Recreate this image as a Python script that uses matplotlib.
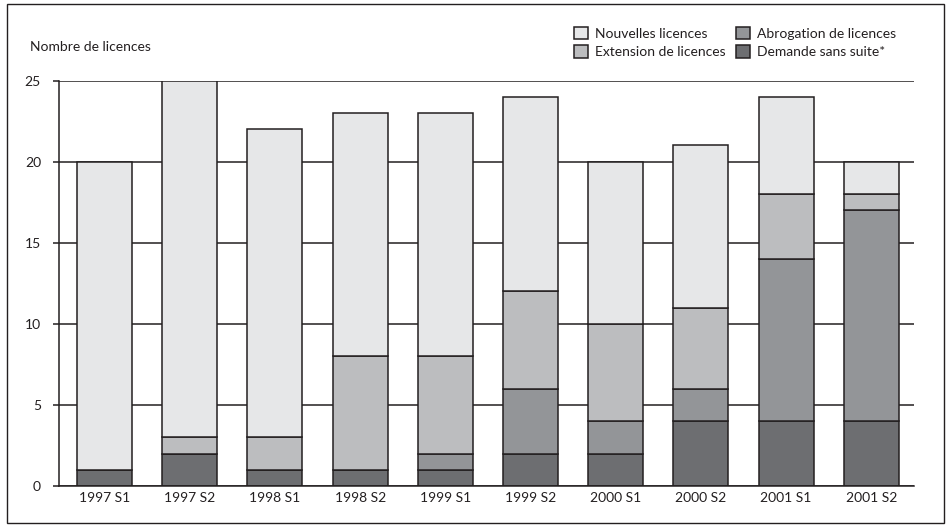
import matplotlib
matplotlib.use("Agg")
import matplotlib.pyplot as plt
from matplotlib.patches import Rectangle
import numpy as np

plt.rcParams['font.family'] = ['Lato', 'DejaVu Sans']

periods = ["1997 S1", "1997 S2", "1998 S1", "1998 S2", "1999 S1",
           "1999 S2", "2000 S1", "2000 S2", "2001 S1", "2001 S2"]
demande_sans_suite = [1, 2, 1, 1, 1, 2, 2, 4, 4, 4]
abrogation = [0, 0, 0, 0, 1, 4, 2, 2, 10, 13]
extension = [0, 1, 2, 7, 6, 6, 6, 5, 4, 1]
nouvelles = [19, 22, 19, 15, 15, 12, 10, 10, 6, 2]

series = [
    ("Demande sans suite*", demande_sans_suite, "#6d6e71"),
    ("Abrogation de licences", abrogation, "#939598"),
    ("Extension de licences", extension, "#bcbdbf"),
    ("Nouvelles licences", nouvelles, "#e6e7e8"),
]
yticks = [0, 5, 10, 15, 20, 25]

edge = "#231f20"
text_color = "#231f20"
fs = 10

fig = plt.figure(figsize=(9.46, 5.26), dpi=100)
ax = fig.add_axes([59 / 946, 40 / 526, (914 - 59) / 946, (486 - 80.5) / 526])

x = np.arange(len(periods))
bottom = np.zeros(len(periods))
handles = {}
for name, vals, color in series:
    vals = np.array(vals, dtype=float)
    bars = ax.bar(x, vals, bottom=bottom, width=0.645, color=color,
                  edgecolor=edge, linewidth=1.1, zorder=3, label=name)
    handles[name] = bars
    bottom += vals

ax.set_xlim(-0.534, 9.5)
ax.set_ylim(0, 25)
ax.set_yticks(yticks)
ax.set_yticklabels([str(t) for t in yticks])
ax.set_xticks(x)
ax.set_xticklabels(periods)
ax.yaxis.grid(True, color=edge, linewidth=1.1, zorder=0)
ax.set_axisbelow(True)

for s in ["top", "right"]:
    ax.spines[s].set_visible(False)
for s in ["left", "bottom"]:
    ax.spines[s].set_color(edge)
    ax.spines[s].set_linewidth(1.1)
    ax.spines[s].set_zorder(4)

ax.tick_params(axis="y", length=4, width=1.1, color=edge, pad=9,
               labelsize=fs, labelcolor=text_color)
ax.tick_params(axis="x", length=0, pad=4, labelsize=fs, labelcolor=text_color)

fig.text(30 / 946, 1 - 47 / 526, "Nombre de licences", fontsize=fs,
         color=text_color, va="center", ha="left")

order = ["Nouvelles licences", "Extension de licences",
         "Abrogation de licences", "Demande sans suite*"]
leg = fig.legend([handles[n] for n in order], order, ncol=2,
                 loc="upper left", bbox_to_anchor=(564 / 946, 1 - 17 / 526),
                 frameon=False, fontsize=fs, handlelength=1.0,
                 handleheight=1.0, handletextpad=0.5, columnspacing=0.8,
                 labelspacing=0.4, borderpad=0.2)
for t in leg.get_texts():
    t.set_color(text_color)

# Outer frame around the whole figure
fig.patches.append(Rectangle((7 / 946, 3 / 526), (944 - 7) / 946, (522 - 3) / 526,
                             transform=fig.transFigure, fill=False,
                             edgecolor=edge, linewidth=1.0))

fig.savefig("out.png", dpi=100)
